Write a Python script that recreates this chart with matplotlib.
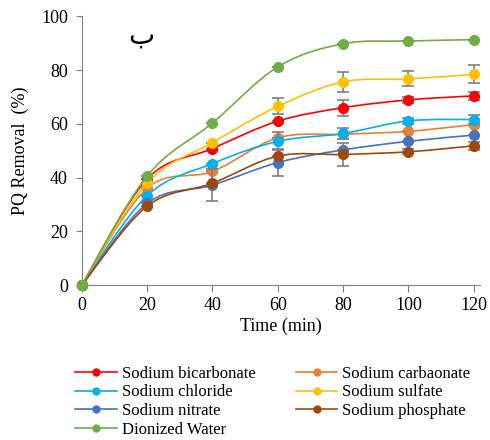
import matplotlib
matplotlib.use('Agg')
import matplotlib.pyplot as plt
from matplotlib.path import Path
from matplotlib.patches import PathPatch
from matplotlib.lines import Line2D
import numpy as np

time_min = [0, 20, 40, 60, 80, 100, 120]

series_names = [
    'Sodium bicarbonate', 'Sodium carbaonate', 'Sodium chloride',
    'Sodium sulfate', 'Sodium nitrate', 'Sodium phosphate', 'Dionized Water'
]
bicarbonate = [0, 39.5, 50.8, 61.0, 66.0, 68.9, 70.4]
carbaonate = [0, 36.0, 42.3, 54.8, 56.1, 57.2, 59.7]
chloride = [0, 33.3, 45.2, 53.5, 56.4, 61.1, 61.6]
sulfate = [0, 38.0, 53.0, 66.5, 75.6, 76.7, 78.4]
nitrate = [0, 30.4, 37.2, 45.6, 50.3, 53.5, 55.8]
phosphate = [0, 29.4, 37.9, 48.0, 48.6, 49.6, 51.8]
water = [0, 40.6, 60.3, 81.2, 89.8, 90.8, 91.3]

bicarbonate_err = [0, 0, 0, 0, 3.0, 1.0, 1.5]
carbaonate_err = [0, 0, 0, 0, 0, 0, 0]
chloride_err = [0, 0, 0, 3.3, 2.0, 1.0, 1.5]
sulfate_err = [0, 0, 0, 3.0, 3.7, 2.8, 3.3]
nitrate_err = [0, 0, 6.0, 5.0, 0, 0, 0]
phosphate_err = [0, 0, 0, 0, 4.4, 1.0, 1.5]
water_err = [0, 0, 0, 0, 0, 0, 0]

COLORS = ['#ff0000', '#ed7d31', '#00b0f0', '#ffc000', '#4472c4', '#9e480e', '#70ad47']


def smooth_path(x, y):
    # bezier segments through the points, like excel's smoothed line
    pts = np.column_stack([x, y]).astype(float)
    n = len(pts)
    verts = [pts[0]]
    codes = [Path.MOVETO]
    for i in range(n - 1):
        p0 = pts[max(i - 1, 0)]
        p1 = pts[i]
        p2 = pts[i + 1]
        p3 = pts[min(i + 2, n - 1)]
        c1 = p1 + (p2 - p0) / 6.0
        c2 = p2 - (p3 - p1) / 6.0
        verts += [c1, c2, p2]
        codes += [Path.CURVE4] * 3
    return Path(verts, codes)


plt.rcParams['font.family'] = ['Liberation Serif', 'DejaVu Sans']

fig = plt.figure(figsize=(4.9, 4.4), dpi=100)
ax = fig.add_axes([0.167, 0.352, 0.812, 0.611])

all_values = [bicarbonate, carbaonate, chloride, sulfate, nitrate, phosphate, water]
all_errs = [bicarbonate_err, carbaonate_err, chloride_err, sulfate_err,
            nitrate_err, phosphate_err, water_err]

handles = []
for k, (name, vals, errs, col) in enumerate(zip(series_names, all_values, all_errs, COLORS)):
    ax.add_patch(PathPatch(smooth_path(time_min, vals), facecolor='none',
                           edgecolor=col, lw=1.2, zorder=2 + k))
    ax.errorbar(time_min, vals, yerr=errs, fmt='none', ecolor='#7f7f7f',
                elinewidth=1.2, capsize=4, capthick=1.2, zorder=2 + k)
    ax.plot(time_min, vals, 'o', color=col, markersize=7, zorder=2.5 + k,
            clip_on=False)
    handles.append(Line2D([], [], color=col, lw=1.2, marker='o', markersize=5))

ax.set_xlim(0, 121.8)
ax.set_ylim(0, 100)
ax.set_xticks(time_min)
ax.set_yticks([0, 20, 40, 60, 80, 100])
ax.spines[['right', 'top']].set_visible(False)
for s in ['left', 'bottom']:
    ax.spines[s].set_color('#7f7f7f')
ax.tick_params(direction='out', length=5, color='#7f7f7f', labelsize=13)
ax.tick_params(axis='y', length=4, pad=6)
ax.set_xlabel('Time (min)', fontsize=13, labelpad=3)
ax.set_ylabel('PQ Removal  (%)', fontsize=13, labelpad=9)

ax.text(18.1, 93, 'ب', fontsize=20, family=['DejaVu Sans'], ha='center', va='center')

# legend is filled row by row in the original
order = [0, 2, 4, 6, 1, 3, 5]
fig.legend([handles[i] for i in order], [series_names[i] for i in order],
           loc='upper left', ncol=2, frameon=False,
           bbox_to_anchor=(0.140, 0.184), fontsize=12, handlelength=2.5,
           labelspacing=0.16, columnspacing=2.4, handletextpad=0.3,
           borderaxespad=0)

fig.savefig('out.png', dpi=100)
